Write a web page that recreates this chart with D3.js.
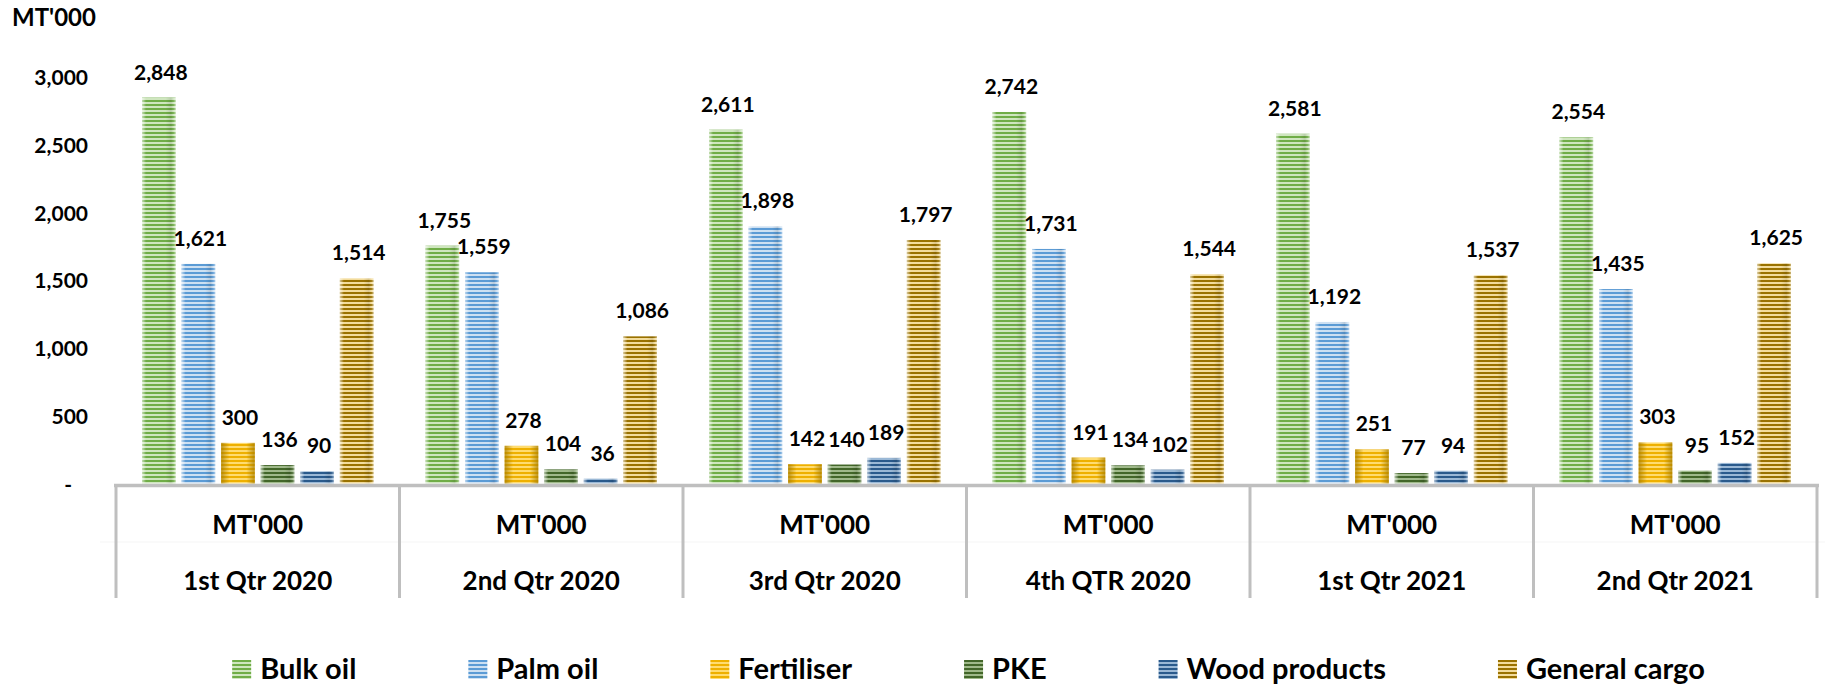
<!DOCTYPE html>
<html>
<head>
<meta charset="utf-8">
<script src="https://cdn.jsdelivr.net/npm/d3@7"></script>
<style>
  body { margin: 0; background: #ffffff; }
  text { font-family: Lato, "Open Sans", sans-serif; font-weight: bold; fill: #000; }
</style>
</head>
<body>
<div id="chart"></div>
<script>
const categories = ["1st Qtr 2020", "2nd Qtr 2020", "3rd Qtr 2020", "4th QTR 2020", "1st Qtr 2021", "2nd Qtr 2021"];
const unitLabel = "MT'000";
const series = ["Bulk oil", "Palm oil", "Fertiliser", "PKE", "Wood products", "General cargo"];

const bulkOil = [2848, 1755, 2611, 2742, 2581, 2554];
const palmOil = [1621, 1559, 1898, 1731, 1192, 1435];
const fertiliser = [300, 278, 142, 191, 251, 303];
const pke = [136, 104, 140, 134, 77, 95];
const woodProducts = [90, 36, 189, 102, 94, 152];
const generalCargo = [1514, 1086, 1797, 1544, 1537, 1625];

const yTicks = [0, 500, 1000, 1500, 2000, 2500, 3000];

const values = [bulkOil, palmOil, fertiliser, pke, woodProducts, generalCargo];

// stripe colours: [dark stripe, light stripe]
const stripes = [
  ["#70ad47", "#cfe6bf"],
  ["#5b9bd5", "#cde0f2"],
  ["#eeb000", "#ffdc70"],
  ["#426629", "#9fb98a"],
  ["#2a5a8c", "#9ab8d6"],
  ["#9a7200", "#f3dc9c"],
];

const width = 1825;
const height = 686;

const svg = d3
  .select("#chart")
  .append("svg")
  .attr("width", width)
  .attr("height", height);

const defs = svg.append("defs");

stripes.forEach((c, i) => {
  const p = defs
    .append("pattern")
    .attr("id", "stripe" + i)
    .attr("patternUnits", "userSpaceOnUse")
    .attr("width", 8)
    .attr("height", 4);
  p.append("rect").attr("width", 8).attr("height", 4).attr("fill", c[1]);
  p.append("rect").attr("width", 8).attr("height", 2).attr("fill", c[0]);
});

const shadeLight = defs.append("linearGradient").attr("id", "shadeLight");
[
  [0, "#fff", 0.6],
  [0.12, "#fff", 0],
  [0.7, "#000", 0],
  [0.86, "#000", 0.1],
  [0.94, "#fff", 0.1],
  [1, "#fff", 0.5],
].forEach((s) =>
  shadeLight.append("stop").attr("offset", s[0]).attr("stop-color", s[1]).attr("stop-opacity", s[2])
);

const shadeDark = defs.append("linearGradient").attr("id", "shadeDark");
[
  [0, "#a67c00", 0.75],
  [0.25, "#a67c00", 0],
  [0.75, "#a67c00", 0],
  [1, "#a67c00", 0.75],
].forEach((s) =>
  shadeDark.append("stop").attr("offset", s[0]).attr("stop-color", s[1]).attr("stop-opacity", s[2])
);

const x0 = d3.scaleBand().domain(categories).range([116, 1817]);
const x1 = d3
  .scaleBand()
  .domain(series)
  .range([26, x0.bandwidth() - 26])
  .paddingInner(0.15);

const y = d3.scaleLinear().domain([0, 3000]).range([483.5, 77]);

// y axis labels (no line)
const yAxis = d3
  .axisLeft(y)
  .tickValues(yTicks)
  .tickSize(0)
  .tickFormat((d) => (d === 0 ? "-" : d3.format(",")(d)));

const yg = svg.append("g").attr("transform", "translate(88,0)").call(yAxis);
yg.select(".domain").remove();
yg.selectAll("text")
  .attr("x", (d) => (d === 0 ? -16 : 0))
  .attr("dy", "0.36em")
  .style("font-size", "21px")
  .style("font-family", "Lato, sans-serif")
  .style("font-weight", "bold")
  .attr("fill", "#000");

svg.append("text").attr("x", 12).attr("y", 26).style("font-size", "24px").text(unitLabel);

// bars
const groups = svg
  .selectAll(".cat")
  .data(categories)
  .enter()
  .append("g")
  .attr("class", "cat")
  .attr("transform", (d) => `translate(${x0(d)},0)`);

const rows = (ci) => series.map((s, si) => ({ s, si, v: values[si][ci] }));

groups.each(function (cat, ci) {
  const g = d3.select(this);
  const data = rows(ci);
  g.selectAll(".bar")
    .data(data)
    .enter()
    .append("rect")
    .attr("class", "bar")
    .attr("x", (d) => x1(d.s))
    .attr("y", (d) => y(d.v))
    .attr("width", x1.bandwidth())
    .attr("height", (d) => y(0) - y(d.v))
    .attr("fill", (d) => `url(#stripe${d.si})`);
  g.selectAll(".shade")
    .data(data)
    .enter()
    .append("rect")
    .attr("class", "shade")
    .attr("x", (d) => x1(d.s))
    .attr("y", (d) => y(d.v))
    .attr("width", x1.bandwidth())
    .attr("height", (d) => y(0) - y(d.v))
    .attr("fill", (d) => (d.si === 2 ? "url(#shadeDark)" : "url(#shadeLight)"));
  g.selectAll(".lbl")
    .data(data)
    .enter()
    .append("text")
    .attr("class", "lbl")
    .attr("x", (d) => x1(d.s) + x1.bandwidth() / 2 + 2)
    .attr("y", (d) => y(d.v) - 18)
    .attr("text-anchor", "middle")
    .style("font-size", "21px")
    .text((d) => d3.format(",")(d.v));
});

// category axis table
svg
  .append("line")
  .attr("x1", 100)
  .attr("x2", 1825)
  .attr("y1", 542)
  .attr("y2", 542)
  .attr("stroke", "#f5f5f5")
  .attr("stroke-width", 1);

svg
  .append("line")
  .attr("x1", 114)
  .attr("x2", 1819)
  .attr("y1", 485.5)
  .attr("y2", 485.5)
  .attr("stroke", "#bfbfbf")
  .attr("stroke-width", 3.5);

const bounds = categories.map((c) => x0(c)).concat([x0.range()[1]]);
svg
  .selectAll(".vline")
  .data(bounds)
  .enter()
  .append("line")
  .attr("x1", (d) => d)
  .attr("x2", (d) => d)
  .attr("y1", 485)
  .attr("y2", 598)
  .attr("stroke", "#bfbfbf")
  .attr("stroke-width", 3);

groups
  .append("text")
  .attr("x", x0.bandwidth() / 2)
  .attr("y", 533.5)
  .attr("text-anchor", "middle")
  .style("font-size", "26px")
  .text(unitLabel);

groups
  .append("text")
  .attr("x", x0.bandwidth() / 2)
  .attr("y", 589.5)
  .attr("text-anchor", "middle")
  .style("font-size", "26px")
  .text((d) => d);

// legend
const legend = svg.append("g");
const items = legend
  .selectAll(".item")
  .data(series)
  .enter()
  .append("g")
  .attr("class", "item");
items
  .append("rect")
  .attr("y", 660)
  .attr("width", 19)
  .attr("height", 19)
  .attr("fill", (d, i) => `url(#stripe${i})`);
items
  .append("text")
  .attr("x", 28)
  .attr("y", 679)
  .style("font-size", "29px")
  .text((d) => d);

let pos = 0;
const offsets = [];
items.each(function () {
  offsets.push(pos);
  const w = d3.select(this).select("text").node().getComputedTextLength();
  pos += 28 + w + 112;
});
const total = pos - 112;
const start = 968.5 - total / 2;
items.attr("transform", (d, i) => `translate(${start + offsets[i]},0)`);
</script>
</body>
</html>
